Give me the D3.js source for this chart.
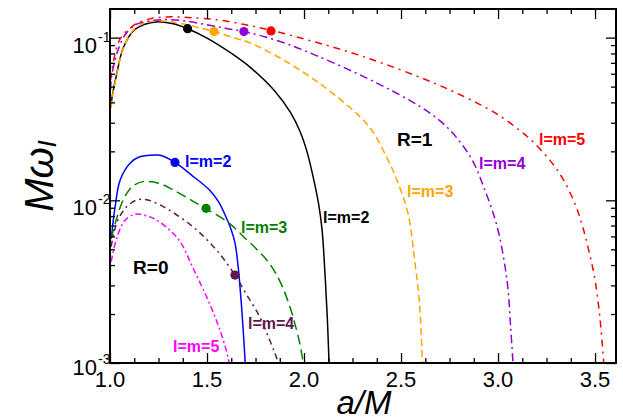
<!DOCTYPE html>
<html>
<head>
<meta charset="utf-8">
<script src="https://cdn.jsdelivr.net/npm/d3@7"></script>
<style>
  html, body { margin: 0; padding: 0; background: #fff; }
  svg { display: block; font-family: "Liberation Sans", Arial, sans-serif; }
</style>
</head>
<body>
<svg id="chart" width="623" height="419"></svg>
<script>
// ---------- data ----------
const xTickValues = [1.0, 1.5, 2.0, 2.5, 3.0, 3.5];
const xTickLabels = ["1.0", "1.5", "2.0", "2.5", "3.0", "3.5"];
const yTickValues = [1e-3, 1e-2, 1e-1];
const yTickExponents = ["-3", "-2", "-1"];

// R = 1 family
const r1m2X = [1.006, 1.012, 1.036, 1.067, 1.12, 1.18, 1.24, 1.32, 1.40, 1.50, 1.63, 1.72, 1.85, 1.93, 1.979, 2.015, 2.046, 2.075, 2.093, 2.108, 2.120, 2.129];
const r1m2Y = [0.039, 0.044, 0.061, 0.0857, 0.110, 0.121, 0.125, 0.122, 0.1135, 0.0993, 0.0794, 0.0661, 0.0468, 0.0347, 0.0266, 0.020, 0.0141, 0.00955, 0.0066, 0.00355, 0.0019, 0.001];

const r1m3X = [1.006, 1.012, 1.036, 1.067, 1.12, 1.18, 1.25, 1.35, 1.45, 1.536, 1.63, 1.72, 1.89, 2.067, 2.237, 2.30, 2.356, 2.43, 2.479, 2.536, 2.572, 2.595, 2.61];
const r1m3Y = [0.037, 0.043, 0.060, 0.085, 0.111, 0.123, 0.127, 0.123, 0.116, 0.109, 0.1004, 0.0931, 0.0733, 0.0537, 0.0372, 0.0316, 0.0263, 0.018, 0.0133, 0.0083, 0.0041, 0.00233, 0.001];

const r1m4X = [1.003, 1.009, 1.04, 1.08, 1.137, 1.20, 1.27, 1.38, 1.50, 1.60, 1.69, 1.80, 1.94, 2.067, 2.24, 2.41, 2.58, 2.70, 2.79, 2.87, 2.93, 2.995, 3.046, 3.065, 3.077];
const r1m4Y = [0.048, 0.0585, 0.083, 0.105, 0.121, 0.126, 0.129, 0.127, 0.120, 0.114, 0.109, 0.101, 0.0891, 0.0773, 0.0628, 0.0501, 0.0389, 0.0309, 0.024, 0.0174, 0.01175, 0.00692, 0.00324, 0.00166, 0.001];

const r1m5X = [1.003, 1.017, 1.05, 1.12, 1.20, 1.29, 1.40, 1.55, 1.70, 1.83, 2.067, 2.25, 2.41, 2.60, 2.753, 2.90, 3.01, 3.113, 3.18, 3.268, 3.335, 3.40, 3.438, 3.47, 3.50, 3.525, 3.545];
const r1m5Y = [0.055, 0.0706, 0.097, 0.1186, 0.130, 0.134, 0.133, 0.1288, 0.120, 0.111, 0.0933, 0.0804, 0.0692, 0.0569, 0.0476, 0.0392, 0.033, 0.0268, 0.0229, 0.0176, 0.0135, 0.0093, 0.00676, 0.00479, 0.00324, 0.0019, 0.001];

// R = 0 family
const r0m2X = [1.008, 1.015, 1.026, 1.052, 1.103, 1.15, 1.23, 1.26, 1.335, 1.42, 1.515, 1.56, 1.608, 1.626, 1.644, 1.657, 1.67, 1.685, 1.697];
const r0m2Y = [0.0060, 0.0072, 0.00906, 0.0133, 0.0169, 0.01845, 0.0190, 0.0189, 0.0171, 0.0143, 0.0115, 0.00977, 0.00741, 0.00653, 0.0055, 0.00427, 0.00295, 0.0017, 0.001];

const r0m3X = [1.006, 1.036, 1.06, 1.088, 1.12, 1.17, 1.25, 1.325, 1.42, 1.495, 1.608, 1.70, 1.76, 1.81, 1.85, 1.89, 1.93, 1.96, 1.98, 1.996];
const r0m3Y = [0.0058, 0.00787, 0.00955, 0.0111, 0.0123, 0.01303, 0.01274, 0.01161, 0.0100, 0.00887, 0.00733, 0.0058, 0.00495, 0.00427, 0.00363, 0.00292, 0.00216, 0.00162, 0.00129, 0.001];

const r0m4X = [1.006, 1.02, 1.04, 1.065, 1.093, 1.144, 1.20, 1.29, 1.43, 1.55, 1.644, 1.70, 1.773, 1.82, 1.85, 1.868];
const r0m4Y = [0.0052, 0.0063, 0.00753, 0.0085, 0.0093, 0.0101, 0.0100, 0.00893, 0.00683, 0.00493, 0.00347, 0.00268, 0.00191, 0.00141, 0.00115, 0.001];

const r0m5X = [1.006, 1.036, 1.077, 1.129, 1.196, 1.258, 1.356, 1.428, 1.505, 1.567, 1.608, 1.613];
const r0m5Y = [0.0042, 0.00593, 0.00753, 0.0082, 0.00798, 0.00733, 0.00569, 0.00383, 0.00244, 0.00159, 0.00109, 0.001];

// marked points (dots)
const dotX = [1.40, 1.536, 1.69, 1.83, 1.335, 1.495, 1.644];
const dotY = [0.1135, 0.109, 0.109, 0.110, 0.0171, 0.00893, 0.00347];
const dotColor = ["#000000", "#FFA500", "#9400D3", "#FF0000", "#0000FF", "#008000", "#5E1A4A"];

// curve labels (anchored in data coordinates)
const labelText = ["l=m=2", "l=m=3", "l=m=4", "l=m=5", "l=m=2", "l=m=3", "l=m=4", "l=m=5", "R=1", "R=0"];
const labelX = [2.098, 2.531, 2.902, 3.211, 1.387, 1.675, 1.711, 1.325, 2.479, 1.119];
const labelY = [0.00787, 0.01135, 0.01687, 0.02366, 0.01734, 0.00683, 0.00176, 0.00127, 0.02366, 0.00388];
const labelColor = ["#000000", "#FFA500", "#9400D3", "#FF0000", "#0000FF", "#008000", "#5E1A4A", "#FF00FF", "#000000", "#000000"];
const labelBig = [false, false, false, false, false, false, false, false, true, true];

// ---------- layout ----------
const svg = d3.select("#chart");
const L = 110, R = 616, T = 9, B = 363;
const x = d3.scaleLinear().domain([1.0, 3.608]).range([L, R]);
const y = d3.scaleLog().domain([1e-3, 0.15]).range([B, T]);

const series = [
  { xs: r1m2X, ys: r1m2Y, color: "#000000", dash: null },
  { xs: r1m3X, ys: r1m3Y, color: "#FFA500", dash: "7,4" },
  { xs: r1m4X, ys: r1m4Y, color: "#9400D3", dash: "8,4,2,4" },
  { xs: r1m5X, ys: r1m5Y, color: "#FF0000", dash: "7,5,2,5" },
  { xs: r0m2X, ys: r0m2Y, color: "#0000FF", dash: null },
  { xs: r0m3X, ys: r0m3Y, color: "#008000", dash: "10,5" },
  { xs: r0m4X, ys: r0m4Y, color: "#5E1A4A", dash: "6,4,2,4" },
  { xs: r0m5X, ys: r0m5Y, color: "#FF00FF", dash: "6,3,2,3" }
];

svg.append("defs").append("clipPath").attr("id", "plotclip")
  .append("rect").attr("x", L).attr("y", T).attr("width", R - L).attr("height", B - T);

const line = d3.line().x(d => x(d[0])).y(d => y(d[1])).curve(d3.curveCatmullRom.alpha(0.5));

const g = svg.append("g").attr("clip-path", "url(#plotclip)");
series.forEach(s => {
  const pts = s.xs.map((v, i) => [v, s.ys[i]]);
  g.append("path").datum(pts)
    .attr("d", line)
    .attr("fill", "none")
    .attr("stroke", s.color)
    .attr("stroke-width", 1.5)
    .attr("stroke-dasharray", s.dash);
});

// dots
g.selectAll("circle.dot").data(dotX).enter().append("circle")
  .attr("cx", (d) => x(d))
  .attr("cy", (d, i) => y(dotY[i]))
  .attr("r", 4.6)
  .attr("fill", (d, i) => dotColor[i]);

// ---------- axes (ticks inward on all four sides) ----------
const xMinor = d3.range(1.0, 3.6001, 0.125).filter(v => !xTickValues.some(t => Math.abs(t - v) < 1e-6));
const yMinor = [];
[1e-3, 1e-2, 1e-1].forEach(dec => { for (let k = 2; k <= 9; k++) { const v = dec * k; if (v <= 0.15) yMinor.push(v); } });

const axisBottom = d3.axisBottom(x).tickValues(xTickValues).tickSize(-10).tickFormat("");
const axisBottomMinor = d3.axisBottom(x).tickValues(xMinor).tickSize(-5).tickFormat("");
const axisTop = d3.axisTop(x).tickValues(xTickValues).tickSize(-10).tickFormat("");
const axisTopMinor = d3.axisTop(x).tickValues(xMinor).tickSize(-5).tickFormat("");
const axisLeft = d3.axisLeft(y).tickValues(yTickValues).tickSize(-10).tickFormat("");
const axisLeftMinor = d3.axisLeft(y).tickValues(yMinor).tickSize(-5).tickFormat("");
const axisRight = d3.axisRight(y).tickValues(yTickValues).tickSize(-10).tickFormat("");
const axisRightMinor = d3.axisRight(y).tickValues(yMinor).tickSize(-5).tickFormat("");

function drawAxis(ax, tr) {
  const a = svg.append("g").attr("transform", tr).call(ax);
  a.select(".domain").remove();
  a.selectAll(".tick line").attr("stroke", "#000").attr("stroke-width", 1.3);
  return a;
}
drawAxis(axisBottom, `translate(0,${B})`);
drawAxis(axisBottomMinor, `translate(0,${B})`);
drawAxis(axisTop, `translate(0,${T})`);
drawAxis(axisTopMinor, `translate(0,${T})`);
drawAxis(axisLeft, `translate(${L},0)`);
drawAxis(axisLeftMinor, `translate(${L},0)`);
drawAxis(axisRight, `translate(${R},0)`);
drawAxis(axisRightMinor, `translate(${R},0)`);

// frame
svg.append("rect").attr("x", L).attr("y", T).attr("width", R - L).attr("height", B - T)
  .attr("fill", "none").attr("stroke", "#000").attr("stroke-width", 2);

// x tick labels
svg.selectAll("text.xt").data(xTickValues).enter().append("text")
  .attr("x", d => x(d)).attr("y", B + 24)
  .attr("text-anchor", "middle").attr("font-size", 22).attr("fill", "#000")
  .text((d, i) => xTickLabels[i]);

// y tick labels: 10^n
yTickValues.forEach((v, i) => {
  const shift = i === 0 ? -3 : 0;
  svg.append("text").attr("x", 97).attr("y", y(v) + 15 + shift)
    .attr("text-anchor", "end").attr("font-size", 22).attr("fill", "#000").text("10");
  svg.append("text").attr("x", 98).attr("y", y(v) + 4 + shift)
    .attr("font-size", 14).attr("fill", "#000").text(yTickExponents[i]);
});

// axis titles
svg.append("text").attr("x", 364).attr("y", 414)
  .attr("text-anchor", "middle").attr("font-size", 33).attr("font-style", "italic")
  .text("a/M");

const yt = svg.append("text")
  .attr("transform", "translate(53,176) rotate(-90)")
  .attr("text-anchor", "middle").attr("font-size", 40).attr("font-style", "italic");
yt.append("tspan").text("Mω");
yt.append("tspan").attr("font-size", 26).attr("dy", 3).text("I");

// curve labels
labelText.forEach((t, i) => {
  const fs = labelBig[i] ? 19 : 16;
  svg.append("text")
    .attr("x", x(labelX[i])).attr("y", y(labelY[i]) + fs * 0.36)
    .attr("font-size", fs).attr("font-weight", "bold").attr("fill", labelColor[i])
    .text(t);
});
</script>
</body>
</html>
